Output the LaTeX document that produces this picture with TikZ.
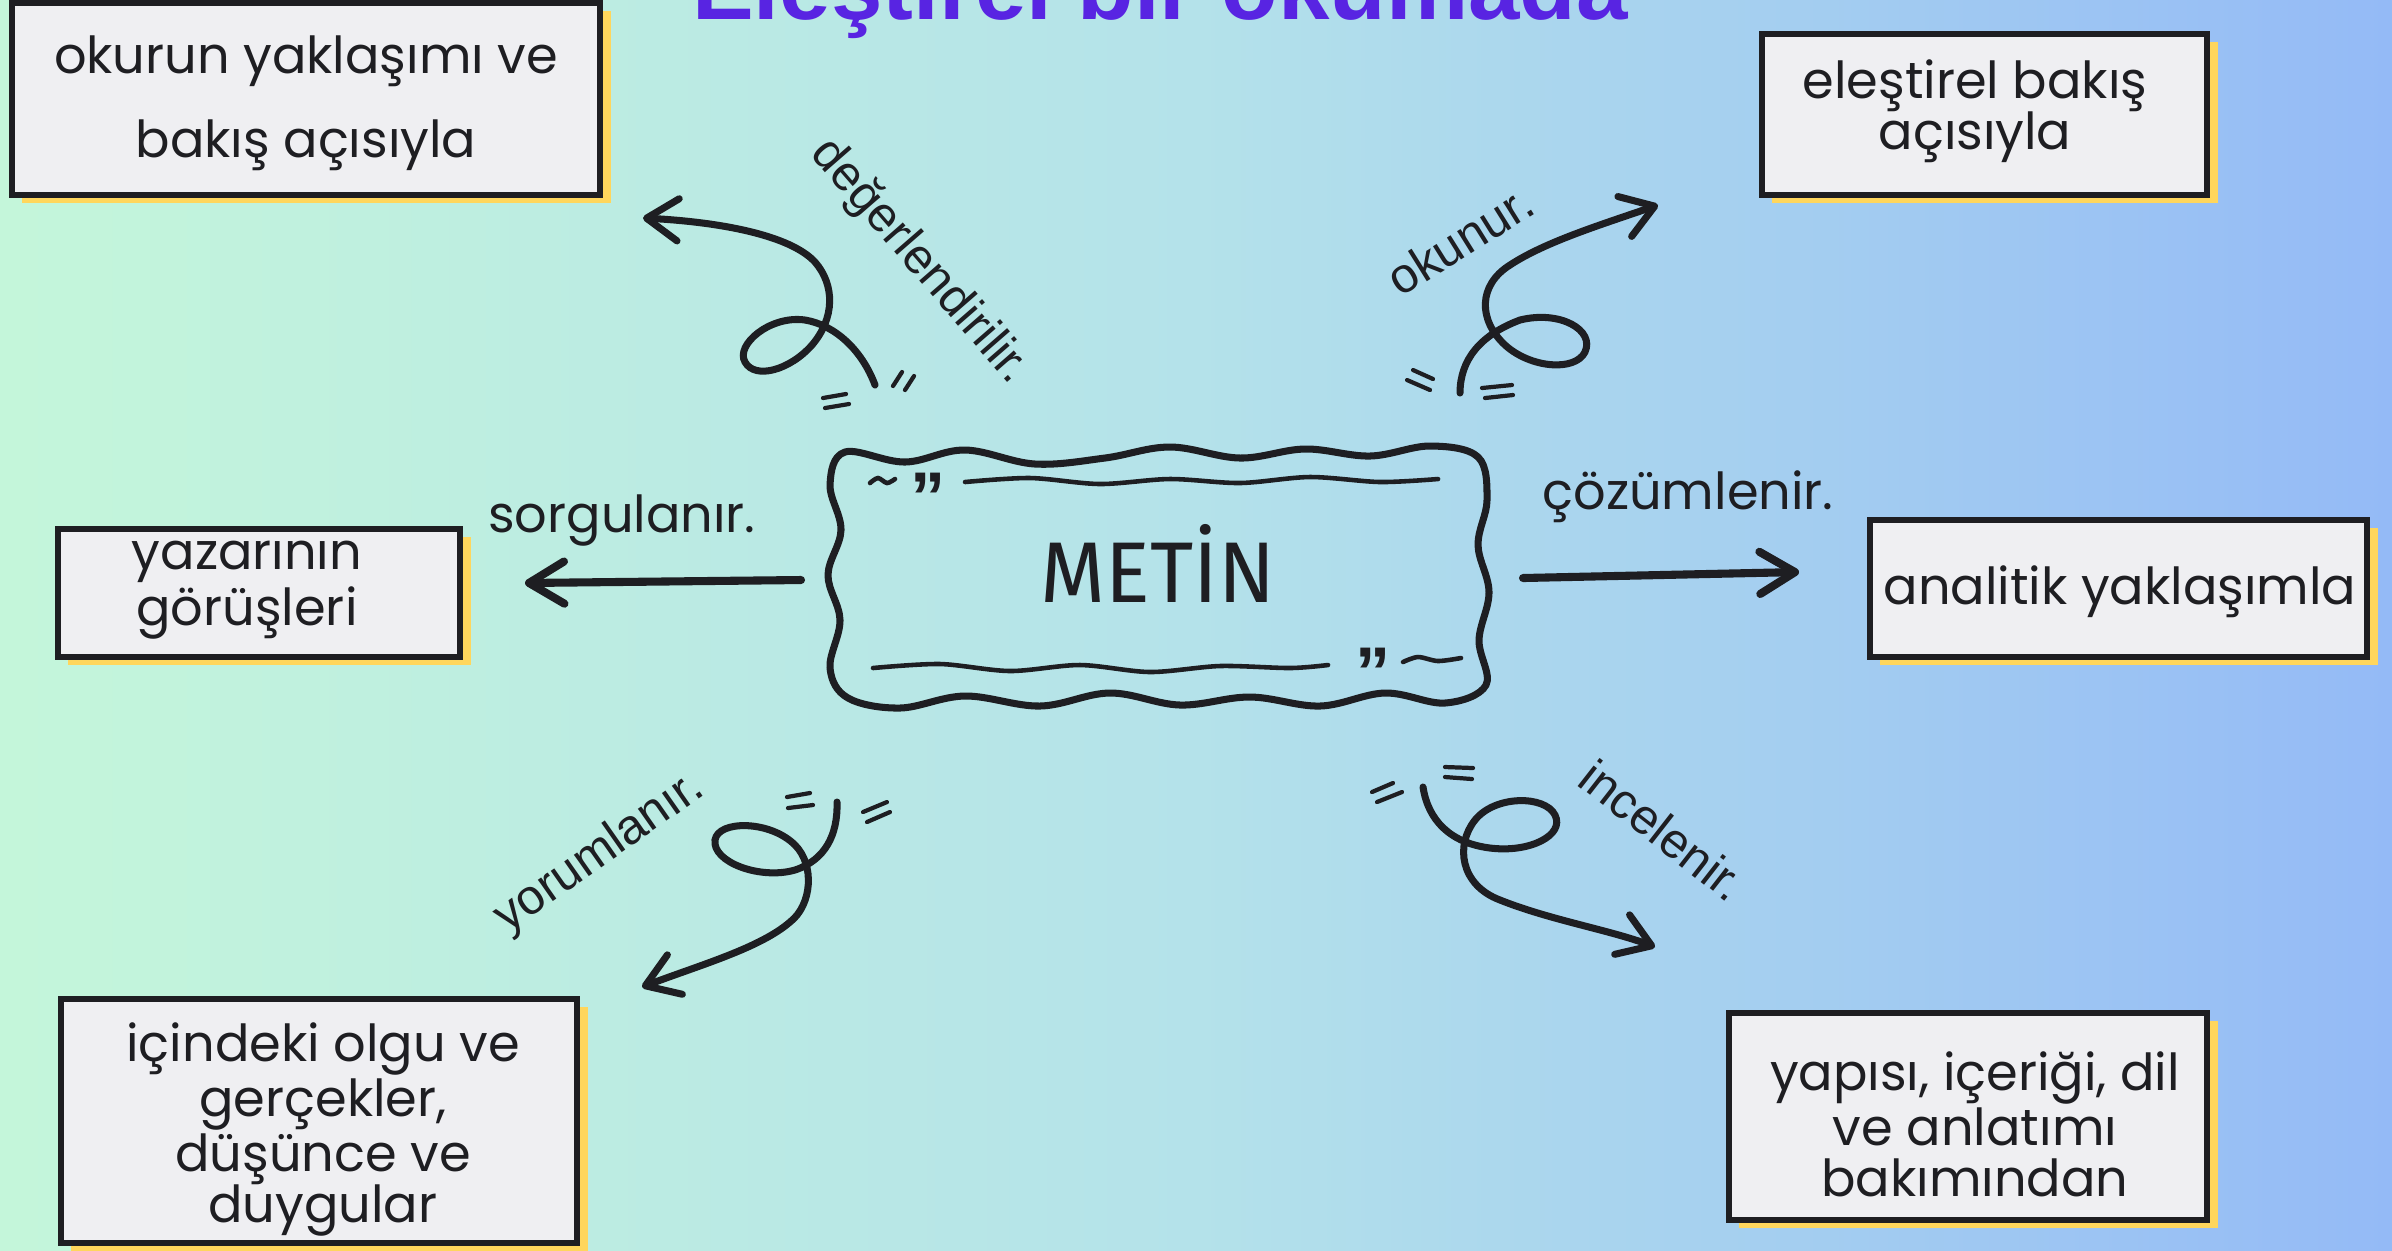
\documentclass[tikz,border=0pt]{standalone}
\usepackage{fontspec}
\setmainfont{Poppins}
\newfontfamily\arialf{Liberation Sans}
\newfontfamily\metinf[FakeStretch=0.97]{Fira Sans}
\usetikzlibrary{arrows.meta,shadows}
\definecolor{bgL}{RGB}{196,246,218}
\definecolor{bgM}{RGB}{180,226,234}
\definecolor{bgR}{RGB}{148,186,246}
\definecolor{boxfill}{RGB}{239,239,242}
\definecolor{shadowY}{RGB}{255,214,92}
\definecolor{titlec}{RGB}{88,36,226}
\definecolor{ink}{RGB}{30,30,34}
\begin{document}
\begin{tikzpicture}[x=0.01cm,y=-0.01cm,
 boxst/.style={draw=ink,line width=1.7pt,fill=boxfill,inner sep=0pt,
   drop shadow={shadow xshift=3pt,shadow yshift=-2.3pt,fill=shadowY,opacity=1}},
 boxtext/.style={align=center,text=ink,inner sep=0pt,font=\fontsize{14.5}{14.5}\selectfont},
 lbl/.style={text=ink,inner sep=0pt,font=\fontsize{14.5}{17}\selectfont},
 rlbl/.style={text=ink,inner sep=0pt,font=\arialf\fontsize{14}{17}\selectfont},
 arr/.style={draw=ink,line width=2.3pt,line cap=round,-{Straight Barb[length=10pt,width=12pt,round]}},
 curl/.style={draw=ink,line width=2pt,line cap=round,-{Straight Barb[length=9pt,width=12pt,round]}},
 qm/.style={draw=ink,line width=1.2pt,line cap=round},
 wav/.style={draw=ink,line width=1.3pt,line cap=round},
 quo/.style={text=ink,inner sep=0pt,anchor=base,font=\arialf\bfseries\fontsize{20}{20}\selectfont}]
\useasboundingbox (0,0) rectangle (2392,1250);
\clip (0,0) rectangle (2392,1250);
\shade[left color=bgL,right color=bgR,middle color=bgM] (0,0) rectangle (2392,1250);

% title (cut off at the top)
\node[anchor=base,text=titlec,inner sep=0pt,font=\arialf\bfseries\fontsize{26.3}{26.3}\selectfont] (title) at (1160,19) {Eleştirel bir okumada};

% boxes
\node[boxst,minimum width=5.88cm,minimum height=1.92cm] (bTL) at (306,99) {};
\node[boxst,minimum width=4.45cm,minimum height=1.61cm] (bTR) at (1984.5,114.5) {};
\node[boxst,minimum width=4.02cm,minimum height=1.28cm] (bML) at (259,593) {};
\node[boxst,minimum width=4.97cm,minimum height=1.37cm] (bMR) at (2118.5,588.5) {};
\node[boxst,minimum width=5.16cm,minimum height=2.44cm] (bBL) at (319,1121) {};
\node[boxst,minimum width=4.78cm,minimum height=2.07cm] (bBR) at (1968,1116.5) {};

\node[boxtext,font=\fontsize{14.5}{24}\selectfont] (tTL) at (306,103) {okurun yaklaşımı ve\\bakış açısıyla};
\node[boxtext] (tTR) at (1975,111) {eleştirel bakış\\açısıyla};
\node[boxtext] (tML) at (247,590) {yazarının\\görüşleri};
\node[boxtext] (tMR) at (2120,592) {analitik yaklaşımla};
\node[boxtext] (tBL) at (323,1129) {içindeki olgu ve\\gerçekler,\\düşünce ve\\duygular};
\node[boxtext] (tBR) at (1975,1124) {yapısı, içeriği, dil\\ve anlatımı\\bakımından};

% centre wavy box
\draw[draw=ink,line width=2pt,line join=round] plot[smooth cycle,tension=0.6] coordinates {
 (845,452) (905,462) (965,450) (1035,464) (1105,458) (1170,447) (1240,458) (1305,449) (1370,456) (1430,446) (1478,457)
 (1487,500) (1478,545) (1489,592) (1479,640) (1486,685)
 (1445,703) (1385,693) (1320,706) (1250,697) (1180,705) (1110,693) (1040,706) (965,696) (900,708) (848,698)
 (830,668) (840,620) (828,575) (841,530) (830,485)};
\draw[wav] plot[smooth] coordinates {(870,483) (878,478) (887,483) (895,479)};
\node[quo] (q1) at (928,521) {”};
\draw[wav] plot[smooth] coordinates {(965,482) (1030,478) (1100,484) (1170,479) (1240,483) (1310,477) (1380,482) (1438,479)};
\draw[wav] plot[smooth] coordinates {(873,668) (940,664) (1010,671) (1080,665) (1150,672) (1220,666) (1290,668) (1328,665)};
\node[quo] (q2) at (1373,696) {”};
\draw[wav] plot[smooth] coordinates {(1403,662) (1418,657) (1438,661) (1461,658)};
\node[anchor=base,text=ink,inner sep=0pt,font=\metinf\fontsize{24.5}{24.5}\selectfont] (metin) at (1158,602) {METİN};

% straight arrows and labels
\coordinate (lS) at (801,580); \coordinate (lE) at (525,583);
\draw[arr] (lS) -- (lE);
\coordinate (rS) at (1523,578); \coordinate (rE) at (1799,572);
\draw[arr] (rS) -- (rE);
\node[lbl] (sorg) at (622,520) {sorgulanır.};
\node[lbl] (cozum) at (1688,497) {çözümlenir.};

% curly arrows
\coordinate (c1s) at (875,385); \coordinate (c1e) at (643,218);
\draw[curl] (c1s) .. controls (862,350) and (835,325) .. (805,320)
 .. controls (770,315) and (735,345) .. (745,362)
 .. controls (755,380) and (790,370) .. (812,345)
 .. controls (835,318) and (835,285) .. (815,262)
 .. controls (790,235) and (720,222) .. (c1e);
\coordinate (c2s) at (1460,393); \coordinate (c2e) at (1658,205);
\draw[curl] (c2s) .. controls (1460,360) and (1480,335) .. (1520,320)
 .. controls (1560,310) and (1595,330) .. (1585,352)
 .. controls (1575,372) and (1530,368) .. (1505,345)
 .. controls (1478,320) and (1478,285) .. (1510,265)
 .. controls (1545,242) and (1600,225) .. (c2e);
\coordinate (c3s) at (837,802); \coordinate (c3e) at (642,987);
\draw[curl] (c3s) .. controls (838,835) and (825,860) .. (795,870)
 .. controls (760,880) and (712,862) .. (715,840)
 .. controls (718,820) and (770,820) .. (795,845)
 .. controls (815,865) and (812,905) .. (790,922)
 .. controls (760,948) and (700,965) .. (c3e);
\coordinate (c4s) at (1423,787); \coordinate (c4e) at (1655,947);
\draw[curl] (c4s) .. controls (1428,820) and (1450,843) .. (1490,848)
 .. controls (1530,853) and (1565,835) .. (1555,815)
 .. controls (1545,795) and (1495,795) .. (1475,820)
 .. controls (1455,845) and (1460,885) .. (1500,900)
 .. controls (1550,920) and (1610,930) .. (c4e);

% little quote strokes
\draw[qm] (823,398) -- (846,394); \draw[qm] (825,408) -- (849,404);
\draw[qm] (893,386) -- (902,372); \draw[qm] (905,390) -- (914,376);
\draw[qm] (1407,380) -- (1430,390); \draw[qm] (1413,370) -- (1433,379);
\draw[qm] (1482,388) -- (1512,385); \draw[qm] (1485,398) -- (1513,395);
\draw[qm] (787,797) -- (810,793); \draw[qm] (788,808) -- (813,805);
\draw[qm] (863,812) -- (887,802); \draw[qm] (867,822) -- (890,812);
\draw[qm] (1372,792) -- (1393,783); \draw[qm] (1377,802) -- (1402,792);
\draw[qm] (1445,767) -- (1473,768); \draw[qm] (1445,777) -- (1472,779);

% rotated labels
\node[rlbl,rotate=-49] (deger) at (920,262) {değerlendirilir.};
\node[rlbl,rotate=32] (okunur) at (1460,240) {okunur.};
\node[rlbl,rotate=35] (yorum) at (600,853) {yorumlanır.};
\node[rlbl,rotate=-38] (incel) at (1663,830) {incelenir.};
\end{tikzpicture}
\end{document}
